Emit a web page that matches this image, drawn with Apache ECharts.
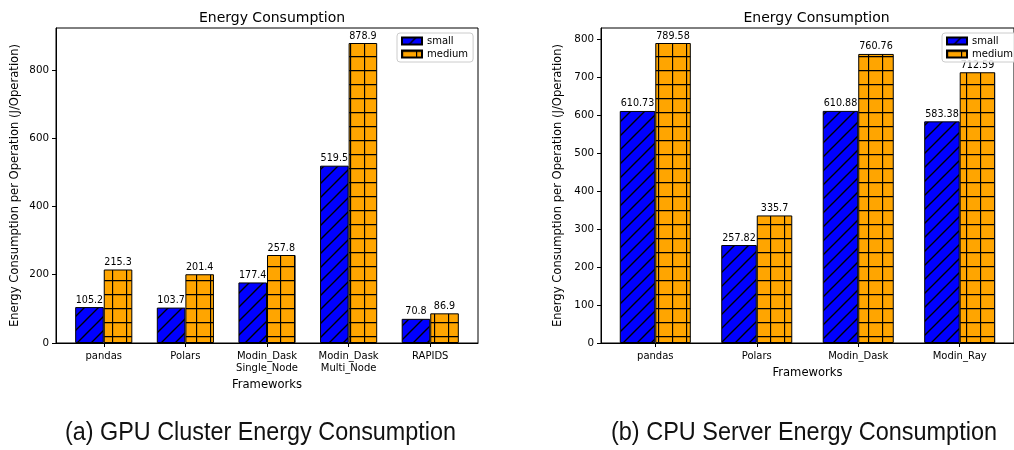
<!DOCTYPE html>
<html>
<head>
<meta charset="utf-8">
<script src="https://cdn.jsdelivr.net/npm/echarts@6/dist/echarts.min.js"></script>
<style>
html,body{margin:0;padding:0;background:#fff;}
#chart{width:1014px;height:450px;}
</style>
</head>
<body>
<div id="chart"></div>
<script>
// ---- data ----
const seriesNames = ['small', 'medium'];
const gpuCategories = ['pandas', 'Polars', 'Modin_Dask\nSingle_Node', 'Modin_Dask\nMulti_Node', 'RAPIDS'];
const gpuSmall = [105.2, 103.7, 177.4, 519.5, 70.8];
const gpuMedium = [215.3, 201.4, 257.8, 878.9, 86.9];
const gpuYTicks = [0, 200, 400, 600, 800];

const cpuCategories = ['pandas', 'Polars', 'Modin_Dask', 'Modin_Ray'];
const cpuSmall = [610.73, 257.82, 610.88, 583.38];
const cpuMedium = [789.58, 335.7, 760.76, 712.59];
const cpuYTicks = [0, 100, 200, 300, 400, 500, 600, 700, 800];

const chartTitle = 'Energy Consumption';
const yName = 'Energy Consumption per Operation (J/Operation)';
const xName = 'Frameworks';
const captionA = '(a) GPU Cluster Energy Consumption';
const captionB = '(b) CPU Server Energy Consumption';

// ---- hatch patterns ----
function hatchDiag(color, size) {
  const c = document.createElement('canvas');
  c.width = size; c.height = size;
  const g = c.getContext('2d');
  g.fillStyle = color; g.fillRect(0, 0, size, size);
  g.strokeStyle = '#000'; g.lineWidth = 1.4;
  g.beginPath();
  g.moveTo(0, size); g.lineTo(size, 0);
  g.moveTo(-size, size); g.lineTo(size, -size);
  g.moveTo(0, 2 * size); g.lineTo(2 * size, 0);
  g.stroke();
  return c;
}
function hatchGrid(color, size) {
  const c = document.createElement('canvas');
  c.width = size; c.height = size;
  const g = c.getContext('2d');
  g.fillStyle = color; g.fillRect(0, 0, size, size);
  g.strokeStyle = '#000'; g.lineWidth = 1.3;
  g.beginPath();
  g.moveTo(0.5, 0); g.lineTo(0.5, size);
  g.moveTo(0, 0.5); g.lineTo(size, 0.5);
  g.stroke();
  return c;
}
const blueFill = { image: hatchDiag('#0000ff', 14), repeat: 'repeat' };
const orangeFill = { image: hatchGrid('#ffa500', 14), repeat: 'repeat' };

const txt = '#000';
const font = 'DejaVu Sans';

function toPairs(vals) { return vals.map((v, i) => [i, v]); }

function makePanel(idx, cats, small, medium, yTicks, grid, legendPos, yNameGap, xNameGap) {
  const n = cats.length;
  const span = (n - 1) + 0.7;
  const m = 0.05 * span;
  const ymax = Math.max(...small, ...medium) * 1.05;
  const xTickVals = cats.map((c, i) => i);
  return {
    grid: Object.assign({ show: true, borderColor: '#000', borderWidth: 1, containLabel: false }, grid),
    xAxis: {
      gridIndex: idx, type: 'value', min: -0.35 - m, max: (n - 1) + 0.35 + m,
      name: xName, nameLocation: 'middle', nameGap: xNameGap,
      nameTextStyle: { fontFamily: font, fontSize: 11.6, color: txt },
      axisLine: { show: true, onZero: false, lineStyle: { color: '#000', width: 1 } },
      axisTick: { show: true, customValues: xTickVals, length: 4, lineStyle: { color: '#000' } },
      axisLabel: { customValues: xTickVals, formatter: v => cats[Math.round(v)], fontFamily: font, fontSize: 10, color: txt, margin: 7, lineHeight: 12 },
      splitLine: { show: false }
    },
    yAxis: {
      gridIndex: idx, type: 'value', min: 0, max: ymax,
      name: yName, nameLocation: 'middle', nameGap: yNameGap,
      nameTextStyle: { fontFamily: font, fontSize: 11.6, color: txt },
      axisLine: { show: true, onZero: false, lineStyle: { color: '#000', width: 1 } },
      axisTick: { show: true, customValues: yTicks, length: 4, lineStyle: { color: '#000' } },
      axisLabel: { customValues: yTicks, fontFamily: font, fontSize: 10.3, color: txt, margin: 7 },
      splitLine: { show: false }
    },
    series: [
      { name: seriesNames[0], data: toPairs(small), fill: blueFill },
      { name: seriesNames[1], data: toPairs(medium), fill: orangeFill }
    ].map(s => ({
      type: 'bar', name: s.name, xAxisIndex: idx, yAxisIndex: idx,
      data: s.data, barWidth: '35%', barGap: '0%',
      itemStyle: { color: s.fill, borderColor: '#000', borderWidth: 1 },
      label: { show: true, position: 'top', distance: 2, fontFamily: font, fontSize: 9.6, color: txt,
               formatter: p => String(p.value[1]) }
    })),
    legend: Object.assign({
      orient: 'vertical', data: seriesNames, itemWidth: 20, itemHeight: 7, itemGap: 3,
      padding: [3, 5, 3, 4], borderColor: '#cccccc', borderWidth: 1, borderRadius: 3,
      backgroundColor: 'rgba(255,255,255,0.85)',
      textStyle: { fontFamily: font, fontSize: 10, color: txt },
      icon: 'rect'
    }, legendPos),
    title: { text: chartTitle, left: (grid.left + grid.width / 2), textAlign: 'center', top: 6,
             textStyle: { fontFamily: font, fontSize: 14, fontWeight: 'normal', color: txt } }
  };
}

const pA = makePanel(0, gpuCategories, gpuSmall, gpuMedium, gpuYTicks,
  { left: 56, top: 28, width: 422, height: 315 }, { left: 397, top: 33 }, 35, 33);
const pB = makePanel(1, cpuCategories, cpuSmall, cpuMedium, cpuYTicks,
  { left: 601, top: 28, width: 421, height: 315 }, { left: 942, top: 33 }, 37, 22);

// caption scaling to match condensed look
function fitScale(text, fontStr, targetW) {
  const c = document.createElement('canvas').getContext('2d');
  c.font = fontStr;
  return targetW / c.measureText(text).width;
}
const capFont = '25px "Liberation Sans"';

const chart = echarts.init(document.getElementById('chart'), null, { renderer: 'canvas' });
chart.setOption({
  animation: false,
  backgroundColor: '#fff',
  title: [pA.title, pB.title],
  legend: [pA.legend, pB.legend],
  grid: [pA.grid, pB.grid],
  xAxis: [pA.xAxis, pB.xAxis],
  yAxis: [pA.yAxis, pB.yAxis],
  series: [...pA.series, ...pB.series],
  graphic: [
    { type: 'text', x: 260.5, y: 433, scaleX: fitScale(captionA, capFont, 391),
      style: { text: captionA, font: capFont, fill: '#111', textAlign: 'center', textVerticalAlign: 'middle' } },
    { type: 'text', x: 804, y: 433, scaleX: fitScale(captionB, capFont, 386),
      style: { text: captionB, font: capFont, fill: '#111', textAlign: 'center', textVerticalAlign: 'middle' } }
  ]
});
</script>
</body>
</html>
